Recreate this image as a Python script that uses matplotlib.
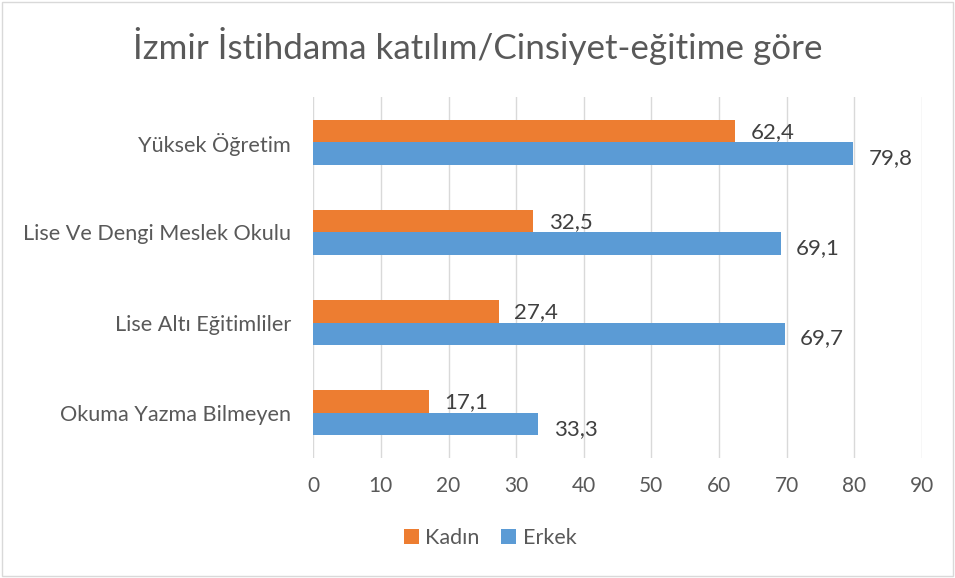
import matplotlib
matplotlib.use('Agg')
import matplotlib.pyplot as plt
from matplotlib.patches import Rectangle
import numpy as np

plt.rcParams['font.family'] = ['Lato', 'DejaVu Sans']

# Data
categories = ['Yüksek Öğretim', 'Lise Ve Dengi Meslek Okulu',
              'Lise Altı Eğitimliler', 'Okuma Yazma Bilmeyen']
kadin = [62.4, 32.5, 27.4, 17.1]
erkek = [79.8, 69.1, 69.7, 33.3]
xticks = [0, 10, 20, 30, 40, 50, 60, 70, 80, 90]

text_color = '#595959'
orange = '#ED7D31'
blue = '#5B9BD5'

fig = plt.figure(figsize=(9.55, 5.78), dpi=100)
ax = fig.add_axes([0.328, 0.2076, 0.6374, 0.6244])

y = np.arange(len(categories))
h = 0.25
ax.barh(y - h / 2, kadin, height=h, color=orange, label='Kadın', zorder=3)
ax.barh(y + h / 2, erkek, height=h, color=blue, label='Erkek', zorder=3)

for yi, v in zip(y, kadin):
    ax.text(v + 2.3, yi - h / 2 + 0.01, f'{v:.1f}'.replace('.', ','), va='center',
            ha='left', fontsize=16, color='#404040')
for yi, v in zip(y, erkek):
    ax.text(v + 2.3, yi + h / 2 + 0.05, f'{v:.1f}'.replace('.', ','), va='center',
            ha='left', fontsize=16, color='#404040')

ax.set_ylim(len(categories) - 0.5, -0.5)
ax.set_xlim(0, 90)
ax.set_xticks(xticks)
ax.set_yticks(y)
ax.set_yticklabels(categories, fontsize=15.6)
ax.tick_params(axis='both', length=0, labelcolor=text_color)
ax.tick_params(axis='x', pad=13, labelsize=15)
ax.tick_params(axis='y', pad=16)
ax.grid(axis='x', color='#D9D9D9', linewidth=1, zorder=0)
for s in ax.spines.values():
    s.set_visible(False)

fig.text(0.5, 0.92, 'İzmir İstihdama katılım/Cinsiyet-eğitime göre',
         ha='center', va='center', fontsize=25.2, color=text_color)

fig.legend(loc='center', bbox_to_anchor=(0.513, 0.069), ncol=2, frameon=False,
           fontsize=15.5, labelcolor=text_color, handlelength=0.7, handleheight=0.7,
           columnspacing=1.0, handletextpad=0.3)

fig.patches.append(Rectangle((0.002, 0.003), 0.996, 0.994, transform=fig.transFigure,
                             fill=False, edgecolor='#D9D9D9', linewidth=1))

fig.savefig('out.png', dpi=100)
